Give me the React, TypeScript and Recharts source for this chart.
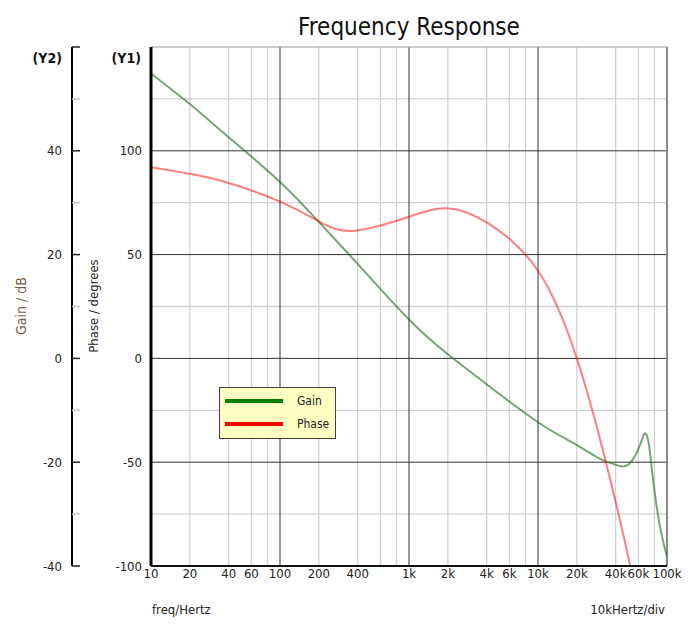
import React from 'react';
import { LineChart, Line, XAxis, YAxis, ReferenceLine, Legend } from 'recharts';

const gainFreq = [10, 20, 40, 100, 200, 400, 1000, 2000, 4000, 10000, 20000, 30000, 40000, 46600, 54000, 61000, 65000, 68700, 72800, 76000, 82000, 90000, 100000];
const gainDb = [54.9, 49.0, 42.6, 34.0, 26.3, 18.2, 7.5, 0.8, -5.0, -12.3, -16.7, -19.3, -20.5, -20.8, -19.6, -17.0, -15.2, -14.5, -17.0, -21.0, -27.5, -33.5, -38.2];

const phaseFreq = [10, 20, 40, 100, 200, 379, 1000, 1945, 4000, 10000, 20000, 33600, 51600, 60000];
const phaseDeg = [92.1, 88.9, 84.5, 75.5, 66.0, 61.5, 68.2, 72.3, 65.5, 42.2, 0.0, -50.0, -99.5, -124.0];

const xTickValues = [10, 20, 40, 60, 100, 200, 400, 1000, 2000, 4000, 6000, 10000, 20000, 40000, 60000, 100000];
const xTickLabels = ['10', '20', '40', '60', '100', '200', '400', '1k', '2k', '4k', '6k', '10k', '20k', '40k', '60k', '100k'];
const xMinorGrid = [20, 40, 60, 80, 200, 400, 600, 800, 2000, 4000, 6000, 8000, 20000, 40000, 60000, 80000];
const xMajorGrid = [100, 1000, 10000];

const y1Ticks = [-100, -50, 0, 50, 100];
const y1MinorGrid = [-75, -25, 25, 75, 125];
const y1MajorGrid = [-50, 0, 50, 100];

const y2Ticks = [-40, -30, -20, -10, 0, 10, 20, 30, 40, 50, 60];
const y2Labeled = [-40, -20, 0, 20, 40];

const seriesNames = ['Gain', 'Phase'];
const seriesColors = ['#008000', '#ff0000'];

const gainData = gainFreq.map((f, i) => ({ f, v: gainDb[i] }));
const phaseData = phaseFreq.map((f, i) => ({ f, v: phaseDeg[i] }));

const FONT = "'DejaVu Sans Condensed', 'DejaVu Sans', sans-serif";

const Y2Tick = (props: any) => {
  const { x, y, payload } = props;
  const v = payload.value;
  const major = v % 20 === 0;
  return (
    <g>
      <line x1={x} x2={x + 8} y1={y} y2={y} stroke={major ? '#222' : '#c8c8c8'} strokeWidth={1.5} />
      {y2Labeled.includes(v) && (
        <text x={x - 10} y={y} dy="0.35em" textAnchor="end" fontFamily={FONT} fontSize={13} fill="#222">
          {v}
        </text>
      )}
    </g>
  );
};

const LegendBox = () => (
  <div
    style={{
      width: 117,
      height: 52,
      background: '#ffffc4',
      border: '1px solid #404040',
      boxSizing: 'border-box',
      position: 'relative',
      fontFamily: FONT,
      fontSize: 12,
      color: '#222',
    }}
  >
    {seriesNames.map((n, i) => (
      <div key={n} style={{ position: 'absolute', left: 5, top: 3 + i * 23, height: 20, display: 'flex', alignItems: 'center' }}>
        <div style={{ width: 58, height: 4, background: seriesColors[i] }} />
        <span style={{ marginLeft: 14 }}>{n}</span>
      </div>
    ))}
  </div>
);

export default function App() {
  return (
    <div style={{ position: 'absolute', left: 0, top: 0, width: 700, height: 635, background: '#fff' }}>
      <LineChart width={700} height={635} margin={{ top: 47, right: 33, bottom: 39, left: 10 }}>
        <XAxis
          dataKey="f"
          type="number"
          scale="log"
          domain={[10, 100000]}
          ticks={xTickValues}
          interval={0}
          allowDataOverflow
          tickFormatter={(v: number) => xTickLabels[xTickValues.indexOf(v)] ?? ''}
          tickLine={false}
          tickSize={0}
          tickMargin={3}
          height={30}
          axisLine={{ stroke: '#111', strokeWidth: 2 }}
          tick={{ fontFamily: FONT, fontSize: 13, fill: '#222' }}
        />
        <YAxis
          yAxisId="y1"
          type="number"
          domain={[-100, 150]}
          ticks={y1Ticks}
          interval={0}
          allowDataOverflow
          width={79}
          tickLine={false}
          tickSize={0}
          tickMargin={9}
          axisLine={{ stroke: '#000', strokeWidth: 3 }}
          tick={{ fontFamily: FONT, fontSize: 13, fill: '#222' }}
        />
        <YAxis
          yAxisId="y2"
          type="number"
          domain={[-40, 60]}
          ticks={y2Ticks}
          interval={0}
          allowDataOverflow
          width={62}
          tickLine={false}
          tickSize={0}
          tickMargin={0}
          axisLine={{ stroke: '#000', strokeWidth: 2 }}
          tick={<Y2Tick />}
        />
        {xMinorGrid.map((v) => (
          <ReferenceLine key={'xm' + v} x={v} yAxisId="y1" stroke="#d2d2d2" strokeWidth={1.3} />
        ))}
        {y1MinorGrid.map((v) => (
          <ReferenceLine key={'ym' + v} y={v} yAxisId="y1" stroke="#d2d2d2" strokeWidth={1.3} />
        ))}
        {xMajorGrid.map((v) => (
          <ReferenceLine key={'xM' + v} x={v} yAxisId="y1" stroke="#333" strokeWidth={1} />
        ))}
        {y1MajorGrid.map((v) => (
          <ReferenceLine key={'yM' + v} y={v} yAxisId="y1" stroke="#333" strokeWidth={1} />
        ))}
        <ReferenceLine y={150} yAxisId="y1" stroke="#9a9a9a" strokeWidth={1} />
        <ReferenceLine x={100000} yAxisId="y1" stroke="#888" strokeWidth={2} />
        <Line
          data={gainData}
          dataKey="v"
          name="Gain"
          yAxisId="y2"
          type="natural"
          dot={false}
          stroke="#1a6b1a"
          strokeOpacity={0.6}
          strokeWidth={2}
          isAnimationActive={false}
        />
        <Line
          data={phaseData}
          dataKey="v"
          name="Phase"
          yAxisId="y1"
          type="natural"
          dot={false}
          stroke="#ff0000"
          strokeOpacity={0.5}
          strokeWidth={2}
          isAnimationActive={false}
        />
        <Legend
          layout="horizontal"
          verticalAlign="middle"
          align="center"
          content={() => <LegendBox />}
          wrapperStyle={{ position: 'absolute', left: 219, top: 387, width: 117, height: 52 }}
        />
      </LineChart>
      <svg width={700} height={635} style={{ position: 'absolute', left: 0, top: 0, pointerEvents: 'none' }}>
        <text x={409} y={35} textAnchor="middle" fontFamily={FONT} fontSize={24} fill="#111">
          Frequency Response
        </text>
        <text x={62} y={63} textAnchor="end" fontFamily={FONT} fontSize={14} fontWeight="bold" fill="#111">
          (Y2)
        </text>
        <text x={141} y={63} textAnchor="end" fontFamily={FONT} fontSize={14} fontWeight="bold" fill="#111">
          (Y1)
        </text>
        <text x={26} y={306} transform="rotate(-90 26 306)" textAnchor="middle" fontFamily={FONT} fontSize={14} fill="#6f5e44">
          Gain / dB
        </text>
        <text x={98} y={306} transform="rotate(-90 98 306)" textAnchor="middle" fontFamily={FONT} fontSize={13} fill="#222">
          Phase / degrees
        </text>
        <text x={152} y={614} fontFamily={FONT} fontSize={13} fill="#222">
          freq/Hertz
        </text>
        <text x={665} y={614} textAnchor="end" fontFamily={FONT} fontSize={13} fill="#222">
          10kHertz/div
        </text>
      </svg>
    </div>
  );
}
